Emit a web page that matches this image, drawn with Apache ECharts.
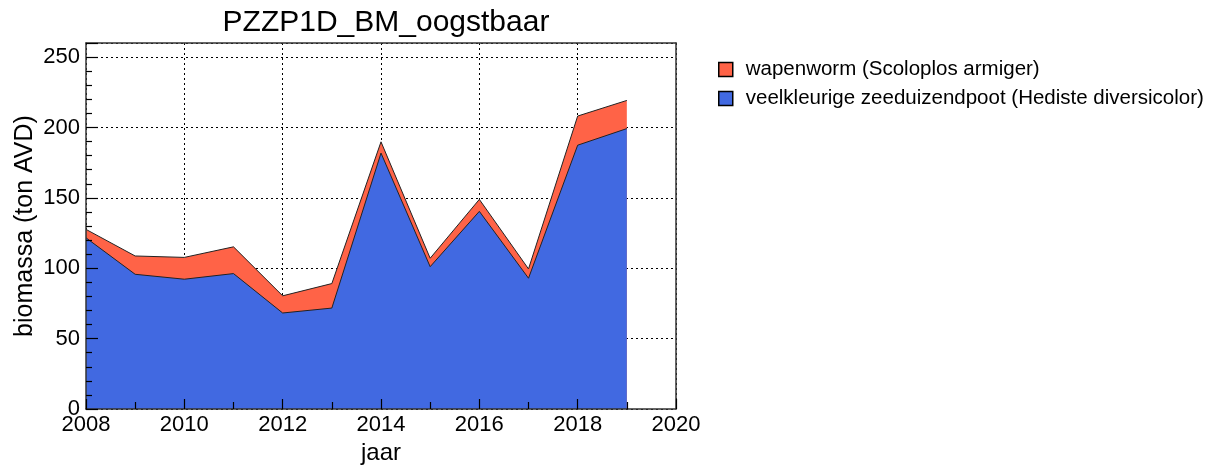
<!DOCTYPE html>
<html>
<head>
<meta charset="utf-8">
<script src="https://cdn.jsdelivr.net/npm/echarts@6/dist/echarts.min.js"></script>
<style>html,body{margin:0;padding:0;background:#fff}#c{width:1220px;height:470px}</style>
</head>
<body>
<div id="c"></div>
<script>
const years = [2008,2009,2010,2011,2012,2013,2014,2015,2016,2017,2018,2019];
const zeeduizendpoot = [121.6,95.7,92.2,96.2,68.2,71.7,181.8,101.1,140.4,92.9,187.4,199.2];
const wapenworm = [6,13,15.5,19,12.2,17.4,8,6,8.5,6.6,20.7,20];
const nameRed = 'wapenworm (Scoloplos armiger)';
const nameBlue = 'veelkleurige zeeduizendpoot (Hediste diversicolor)';
const FONT = '"Liberation Sans", Arial, sans-serif';

// stacked totals (blue at bottom, red on top)
const totals = years.map((y,i) => zeeduizendpoot[i] + wapenworm[i]);

const X = {type: 'value', min: 2008, max: 2020, interval: 2};
const Y = {type: 'value', min: 0, max: 260, interval: 50};
const frameLine = {show: true, onZero: false, lineStyle: {color: '#333', width: 1.5}};
const tickStyle = {color: '#000', width: 1.2};
const none = {show: false};

const chart = echarts.init(document.getElementById('c'), null, {renderer:'canvas'});
chart.setOption({
  animation: false,
  textStyle: {fontFamily: FONT},
  title: {text: 'PZZP1D_BM_oogstbaar', left: 381, textAlign: 'center', top: 3,
    textStyle: {fontFamily: FONT, fontSize: 30, fontWeight: 'normal', color: '#000'}},
  legend: {orient: 'vertical', left: 718, top: 59, itemWidth: 14, itemHeight: 14, itemGap: 8,
    icon: 'rect', padding: 0,
    data: [nameRed, nameBlue],
    textStyle: {fontFamily: FONT, fontSize: 20.5, lineHeight: 14, color: '#000', padding: [0,0,0,8]},
    itemStyle: {borderColor: '#000', borderWidth: 1.5}},
  grid: {left: 86, right: 544, top: 43, bottom: 59, show: false},
  xAxis: [
    Object.assign({}, X, {position: 'bottom', z: 0,
      name: 'jaar', nameLocation: 'middle', nameGap: 32,
      nameTextStyle: {fontFamily: FONT, fontSize: 24, color: '#000'},
      axisLine: none, axisTick: none,
      axisLabel: {fontFamily: FONT, fontSize: 22, color: '#000', margin: 5, formatter: v => String(v)},
      splitLine: {show: true, lineStyle: {color: '#000', type: [2,3], width: 1}}}),
    Object.assign({}, X, {position: 'bottom', z: 10,
      axisLine: frameLine,
      axisTick: {show: true, inside: true, length: 10, lineStyle: tickStyle},
      minorTick: {show: true, splitNumber: 2, length: 7, lineStyle: tickStyle},
      axisLabel: none, splitLine: none}),
    Object.assign({}, X, {position: 'top', z: 10,
      axisLine: frameLine, axisTick: none, axisLabel: none, splitLine: none})
  ],
  yAxis: [
    Object.assign({}, Y, {position: 'left', z: 0,
      name: 'biomassa (ton AVD)', nameLocation: 'middle', nameGap: 48,
      nameTextStyle: {fontFamily: FONT, fontSize: 25, color: '#000'},
      axisLine: none, axisTick: none,
      axisLabel: {fontFamily: FONT, fontSize: 22, color: '#000', margin: 6, showMaxLabel: false,
        formatter: v => (v > 250 ? '' : String(v))},
      splitLine: {show: true, lineStyle: {color: '#000', type: [2,3], width: 1}}}),
    Object.assign({}, Y, {position: 'left', z: 10,
      axisLine: frameLine,
      axisTick: {show: true, inside: true, length: 12, lineStyle: tickStyle},
      minorTick: {show: true, splitNumber: 5, length: 6, lineStyle: tickStyle},
      axisLabel: none, splitLine: none}),
    Object.assign({}, Y, {position: 'right', z: 10,
      axisLine: frameLine, axisTick: none, axisLabel: none, splitLine: none})
  ],
  series: [
    {name: nameRed, type: 'line', color: '#ff6347', showSymbol: false, symbol: 'none', z: 2,
     xAxisIndex: 0, yAxisIndex: 0,
     data: years.map((y,i) => [y, totals[i]]),
     lineStyle: {color: '#222', width: 1}, areaStyle: {color: '#ff6347', opacity: 1},
     itemStyle: {color: '#ff6347'}},
    {name: nameBlue, type: 'line', color: '#4169e1', showSymbol: false, symbol: 'none', z: 3,
     xAxisIndex: 0, yAxisIndex: 0,
     data: years.map((y,i) => [y, zeeduizendpoot[i]]),
     lineStyle: {color: '#222', width: 1}, areaStyle: {color: '#4169e1', opacity: 1},
     itemStyle: {color: '#4169e1'}}
  ]
});
</script>
</body>
</html>
